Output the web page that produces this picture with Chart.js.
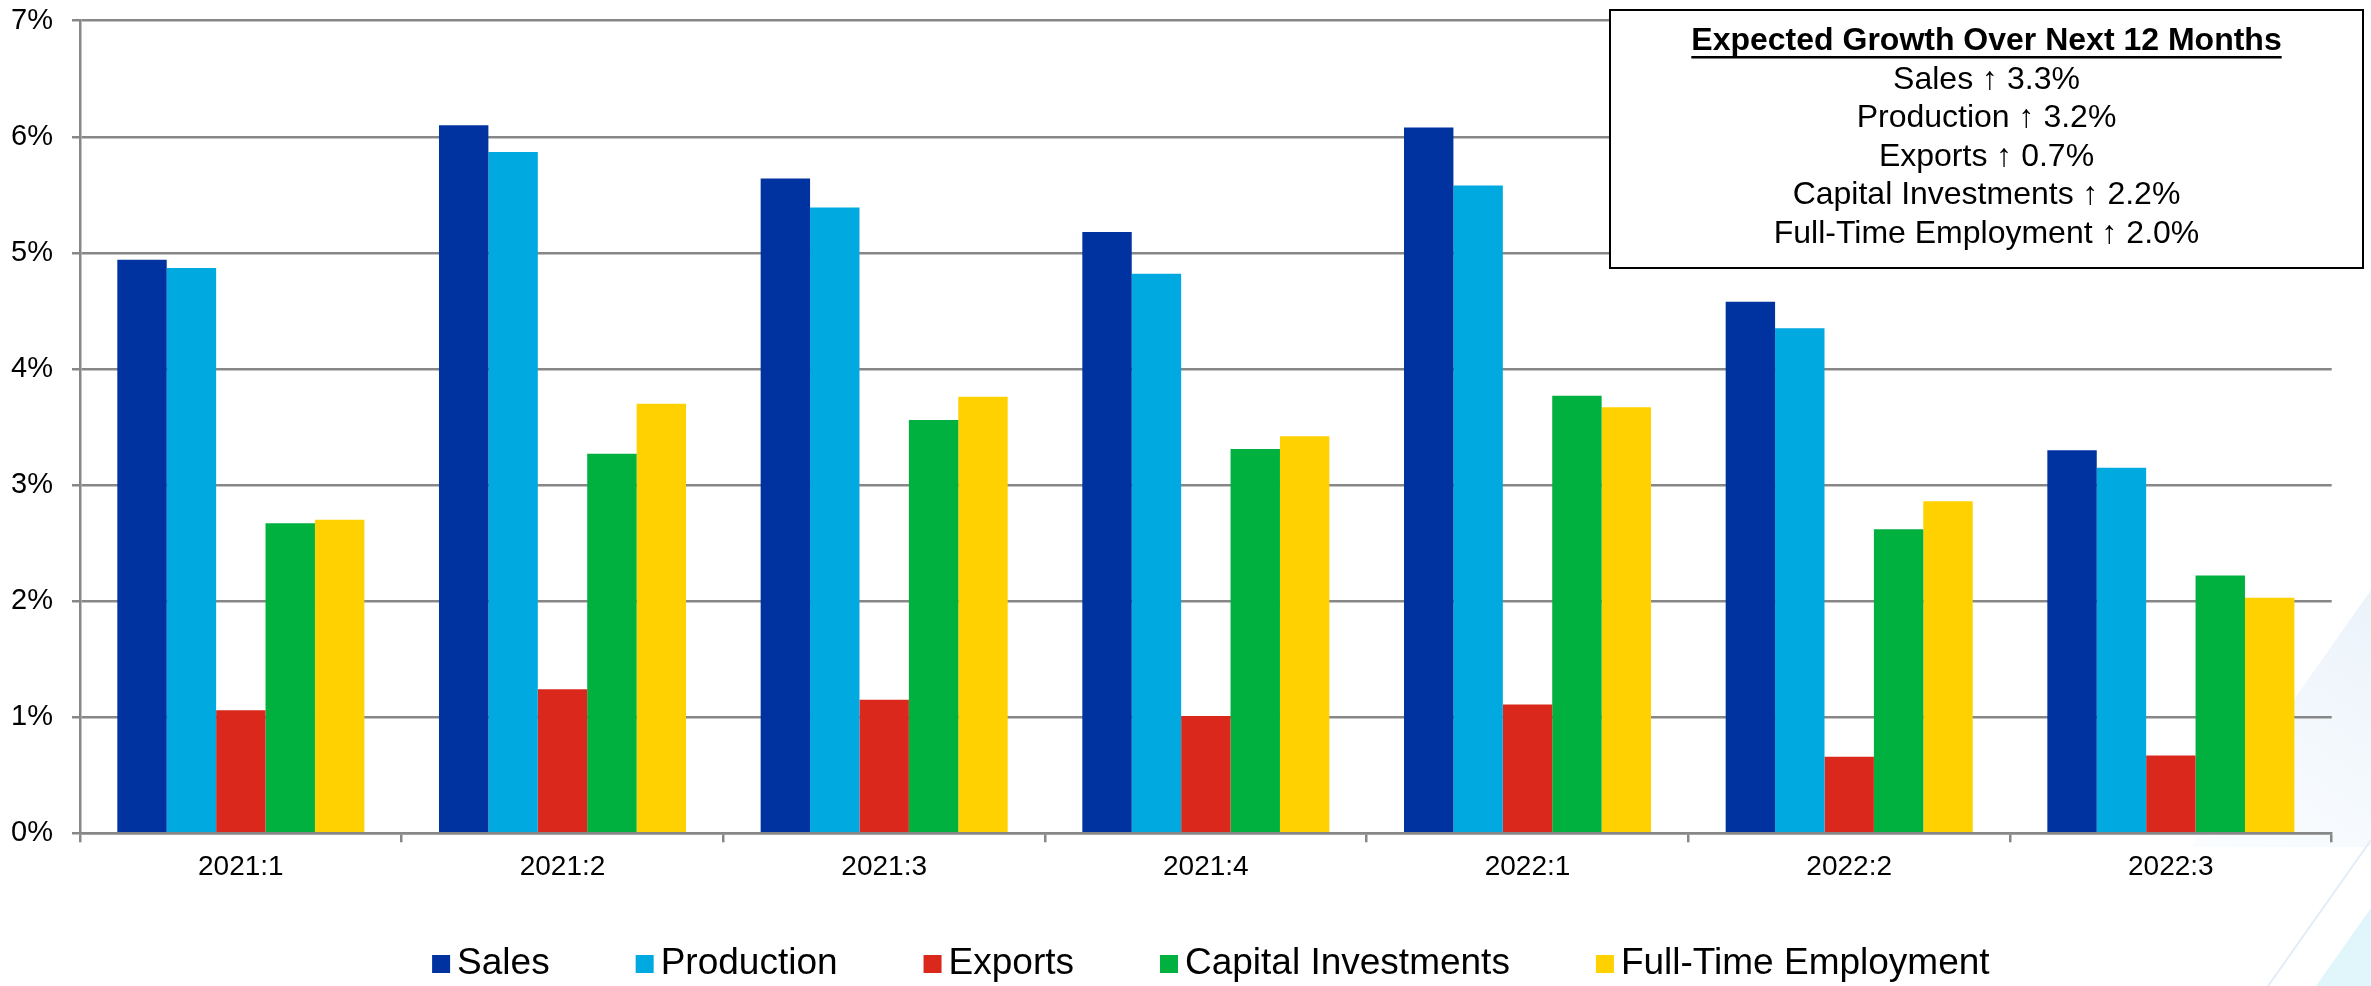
<!DOCTYPE html>
<html>
<head>
<meta charset="utf-8">
<title>Expected Growth</title>
<script src="https://cdn.jsdelivr.net/npm/chart.js@4.4.0/dist/chart.umd.min.js"></script>
<style>
  html, body { margin: 0; padding: 0; background: #fff; }
  #wrap { width: 2371px; height: 986px; position: relative; }
</style>
</head>
<body>
<div id="wrap"><canvas id="growthChart" width="2371" height="986"></canvas></div>
<script>
// Survey periods
const quarters = ['2021:1', '2021:2', '2021:3', '2021:4', '2022:1', '2022:2', '2022:3'];

// Expected growth over the next 12 months, percent
const sales       = [4.94, 6.10, 5.64, 5.18, 6.08, 4.58, 3.30];
const production  = [4.87, 5.87, 5.39, 4.82, 5.58, 4.35, 3.15];
const exportsPct  = [1.06, 1.24, 1.15, 1.01, 1.11, 0.66, 0.67];
const capitalInv  = [2.67, 3.27, 3.56, 3.31, 3.77, 2.62, 2.22];
const fullTimeEmp = [2.70, 3.70, 3.76, 3.42, 3.67, 2.86, 2.03];

const seriesNames  = ['Sales', 'Production', 'Exports', 'Capital Investments', 'Full-Time Employment'];
const seriesColors = ['#0033A0', '#00A9E0', '#DA291C', '#00B140', '#FFD100'];

// Summary box for the latest quarter
const summaryTitle  = 'Expected Growth Over Next 12 Months';
const summaryValues = [3.3, 3.2, 0.7, 2.2, 2.0];

const FONT = '"Liberation Sans", Arial, sans-serif';
const GRID = '#878787';

// Faint slide background shapes in the lower right corner
const backdrop = {
    id: 'backdrop',
    beforeDraw(chart) {
        const ctx = chart.ctx;
        ctx.save();
        ctx.fillStyle = '#fff';
        ctx.fillRect(0, 0, chart.width, chart.height);

        const g = ctx.createLinearGradient(2371, 590, 2200, 847);
        g.addColorStop(0, 'rgba(232, 241, 250, 0.9)');
        g.addColorStop(1, 'rgba(247, 251, 254, 0.6)');
        ctx.fillStyle = g;
        ctx.beginPath();
        ctx.moveTo(2371, 590);
        ctx.lineTo(2190, 847);
        ctx.lineTo(2371, 847);
        ctx.closePath();
        ctx.fill();

        ctx.strokeStyle = '#e2edf8';
        ctx.lineWidth = 2;
        ctx.beginPath();
        ctx.moveTo(2268, 986);
        ctx.lineTo(2371, 840);
        ctx.stroke();

        ctx.fillStyle = '#e0f6fa';
        ctx.beginPath();
        ctx.moveTo(2316, 986);
        ctx.lineTo(2371, 908);
        ctx.lineTo(2371, 986);
        ctx.closePath();
        ctx.fill();
        ctx.restore();
    }
};

// Boxed summary in the top right and the legend row along the bottom
const overlays = {
    id: 'overlays',
    afterDraw(chart) {
        const ctx = chart.ctx;
        ctx.save();

        // summary box
        const bx = 1610, by = 10, bw = 753, bh = 258;
        ctx.fillStyle = '#fff';
        ctx.fillRect(bx, by, bw, bh);
        ctx.strokeStyle = '#000';
        ctx.lineWidth = 2;
        ctx.strokeRect(bx, by, bw, bh);

        const cx = bx + bw / 2;
        ctx.fillStyle = '#000';
        ctx.textAlign = 'center';
        ctx.textBaseline = 'middle';
        ctx.font = 'bold 32px ' + FONT;
        ctx.fillText(summaryTitle, cx, 41);
        const tw = ctx.measureText(summaryTitle).width;
        ctx.fillRect(cx - tw / 2, 56, tw, 2.5);

        ctx.font = '32px ' + FONT;
        seriesNames.forEach((name, i) => {
            ctx.fillText(name + ' \u2191 ' + summaryValues[i].toFixed(1) + '%', cx, 80 + i * 38.5);
        });

        // legend
        ctx.font = '37px ' + FONT;
        ctx.textAlign = 'left';
        const box = 18, gapText = 7, gapItem = 86;
        const widths = chart.data.datasets.map(ds => ctx.measureText(ds.label).width);
        const total = widths.reduce((a, w) => a + box + gapText + w, 0) + gapItem * (widths.length - 1);
        const area = chart.chartArea;
        let x = (area.left + area.right) / 2 + 5 - total / 2;
        const ly = 964;
        chart.data.datasets.forEach((ds, i) => {
            ctx.fillStyle = ds.backgroundColor;
            ctx.fillRect(x, ly - box / 2, box, box);
            ctx.fillStyle = '#000';
            ctx.fillText(ds.label, x + box + gapText, ly);
            x += box + gapText + widths[i] + gapItem;
        });
        ctx.restore();
    }
};

const seriesData = [sales, production, exportsPct, capitalInv, fullTimeEmp];

new Chart(document.getElementById('growthChart'), {
    type: 'bar',
    data: {
        labels: quarters,
        datasets: seriesNames.map((name, i) => ({
            label: name,
            data: seriesData[i],
            backgroundColor: seriesColors[i],
            borderWidth: 0,
            categoryPercentage: 0.768,
            barPercentage: 1.0
        }))
    },
    options: {
        responsive: false,
        animation: false,
        devicePixelRatio: 1,
        layout: {
            padding: { left: 0, right: 39.3, top: 20.7, bottom: 92.7 }
        },
        plugins: {
            legend: { display: false },
            tooltip: { enabled: false }
        },
        scales: {
            x: {
                grid: {
                    offset: true,
                    drawOnChartArea: false,
                    drawTicks: true,
                    tickLength: 9,
                    color: GRID,
                    lineWidth: 2.5
                },
                border: { display: true, color: GRID, width: 2.5 },
                ticks: {
                    color: '#000',
                    padding: 8,
                    font: { family: FONT, size: 28 }
                },
                afterFit(scale) { scale.height = 60; }
            },
            y: {
                min: 0,
                max: 7,
                grid: {
                    color: GRID,
                    lineWidth: 2.5,
                    tickLength: 8
                },
                border: { display: true, color: GRID, width: 2.5 },
                ticks: {
                    stepSize: 1,
                    color: '#000',
                    padding: 19,
                    font: { family: FONT, size: 29 },
                    callback: v => v + '%'
                },
                afterFit(scale) {
                    // fixed axis width; the top label may sit in the layout padding
                    scale.width = 80;
                    scale.paddingTop = 0;
                    scale.paddingBottom = 0;
                }
            }
        }
    },
    plugins: [backdrop, overlays]
});
</script>
</body>
</html>
